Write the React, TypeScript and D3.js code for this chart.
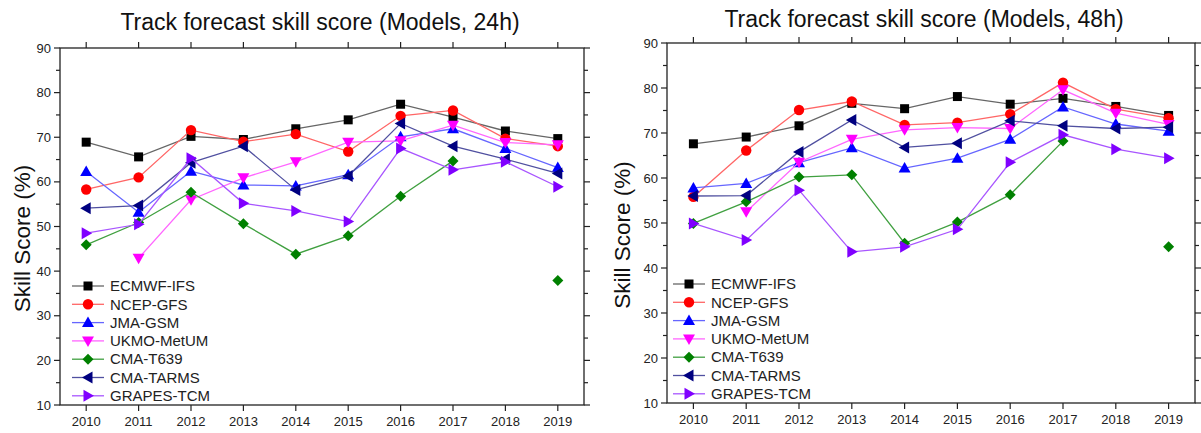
import React from "react";
import * as d3 from "d3";

// years on the x axis
const years = [2010, 2011, 2012, 2013, 2014, 2015, 2016, 2017, 2018, 2019];
const yTicks = [10, 20, 30, 40, 50, 60, 70, 80, 90];

const models = ["ECMWF-IFS", "NCEP-GFS", "JMA-GSM", "UKMO-MetUM", "CMA-T639", "CMA-TARMS", "GRAPES-TCM"];

// 24h skill scores
const ecmwf24 = [68.9, 65.6, 70.2, 69.5, 71.9, 73.9, 77.4, 74.5, 71.4, 69.7];
const ncep24 = [58.3, 61.0, 71.6, 69.0, 70.7, 66.8, 74.8, 76.0, 69.7, 68.0];
const jma24 = [62.3, 53.2, 62.4, 59.3, 59.1, 61.6, 70.1, 71.9, 67.5, 63.2];
const ukmo24 = [null, 42.9, 56.0, 60.9, 64.5, 68.9, 69.2, 72.7, 68.8, 68.3];
const t639_24 = [45.9, 50.9, 57.7, 50.6, 43.8, 47.9, 56.8, 64.7, null, 37.9];
const tarms24 = [54.1, 54.7, 64.3, 68.0, 58.2, 61.3, 73.1, 68.0, 65.1, 61.9];
const grapes24 = [48.5, 50.5, 65.3, 55.2, 53.5, 51.1, 67.5, 62.7, 64.5, 58.9];

// 48h skill scores
const ecmwf48 = [67.6, 69.1, 71.6, 76.6, 75.4, 78.1, 76.4, 77.7, 75.9, 73.9];
const ncep48 = [55.8, 66.1, 75.1, 77.0, 71.8, 72.3, 74.2, 81.2, 75.3, 73.3];
const jma48 = [57.8, 58.8, 63.4, 66.7, 62.2, 64.4, 68.6, 75.8, 72.0, 70.4];
const ukmo48 = [null, 52.5, 63.5, 68.6, 70.7, 71.2, 71.0, 79.6, 74.4, 71.9];
const t639_48 = [49.9, 54.7, 60.2, 60.7, 45.5, 50.2, 56.3, 68.2, null, 44.7];
const tarms48 = [56.0, 56.1, 65.8, 72.9, 66.8, 67.7, 72.7, 71.6, 71.0, 71.3];
const grapes48 = [49.9, 46.2, 57.3, 43.6, 44.7, 48.6, 63.5, 69.6, 66.4, 64.4];

const markerColors = ["#000000", "#ff0000", "#0000ff", "#ff00ff", "#008000", "#000080", "#8000ff"];
const lineColors = ["#666666", "#ff6666", "#6666ff", "#ff66ff", "#40a040", "#5050a0", "#a855ff"];
const symbols = ["square", "circle", "up", "down", "diamond", "left", "right"];

const FONT = "'Liberation Sans', Arial, Helvetica, sans-serif";

function Marker({ kind, x, y, color }) {
  const s = 6; // half size of triangle
  let pts;
  if (kind === "circle") return <circle cx={x} cy={y} r={5.2} fill={color} />;
  if (kind === "square") pts = [[-4.5, -4.5], [4.5, -4.5], [4.5, 4.5], [-4.5, 4.5]];
  else if (kind === "diamond") pts = [[0, -5.5], [5.5, 0], [0, 5.5], [-5.5, 0]];
  else if (kind === "up") pts = [[0, -s], [s, s * 0.75], [-s, s * 0.75]];
  else if (kind === "down") pts = [[0, s], [s, -s * 0.75], [-s, -s * 0.75]];
  else if (kind === "left") pts = [[-s, 0], [s * 0.75, -s], [s * 0.75, s]];
  else pts = [[s, 0], [-s * 0.75, -s], [-s * 0.75, s]];
  return <polygon points={pts.map((p) => `${x + p[0]},${y + p[1]}`).join(" ")} fill={color} />;
}

function Panel({ title, series, left, right, top, bottom, titleX, titleY, labelX, legendX, legendY }) {
  const x = d3.scaleLinear().domain([2009.5, 2019.5]).range([left, right]);
  const y = d3.scaleLinear().domain([10, 90]).range([bottom, top]);
  const minor = d3.range(15, 90, 10);
  const line = d3
    .line()
    .defined((d) => d[1] != null)
    .x((d) => x(d[0]))
    .y((d) => y(d[1]));

  return (
    <g fontFamily={FONT}>
      <text x={titleX} y={titleY} textAnchor="middle" fontSize={23} fill="#111">
        {title}
      </text>
      <text
        transform={`translate(${labelX},${(top + bottom) / 2 + 12}) rotate(-90)`}
        textAnchor="middle"
        fontSize={22.5}
        fill="#111"
      >
        Skill Score (%)
      </text>

      {/* frame */}
      <rect x={left} y={top} width={right - left} height={bottom - top} fill="none" stroke="#222" strokeWidth={1.3} />

      {/* y ticks, both sides */}
      {yTicks.map((t) => (
        <g key={"yl" + t}>
          <line x1={left - 6} x2={left} y1={y(t)} y2={y(t)} stroke="#222" strokeWidth={1.2} />
          <text x={left - 9} y={y(t)} dy="0.35em" textAnchor="end" fontSize={13} fill="#222">
            {t}
          </text>
          <line x1={right} x2={right + 6} y1={y(t)} y2={y(t)} stroke="#222" strokeWidth={1.2} />
        </g>
      ))}
      {minor.map((t) => (
        <g key={"ym" + t}>
          <line x1={left - 4} x2={left} y1={y(t)} y2={y(t)} stroke="#222" strokeWidth={1.2} />
          <line x1={right} x2={right + 4} y1={y(t)} y2={y(t)} stroke="#222" strokeWidth={1.2} />
        </g>
      ))}

      {/* x ticks */}
      {years.map((yr) => (
        <g key={"x" + yr}>
          <line x1={x(yr)} x2={x(yr)} y1={bottom} y2={bottom + 6} stroke="#222" strokeWidth={1.2} />
          <line x1={x(yr)} x2={x(yr)} y1={top - 6} y2={top} stroke="#222" strokeWidth={1.2} />
          <text x={x(yr)} y={bottom + 21} textAnchor="middle" fontSize={13} fill="#222">
            {yr}
          </text>
        </g>
      ))}

      {/* series */}
      {series.map((vals, i) => {
        const pts = years.map((yr, j) => [yr, vals[j]]);
        return (
          <g key={"s" + i}>
            <path d={line(pts)} fill="none" stroke={lineColors[i]} strokeWidth={1.3} />
            {pts
              .filter((p) => p[1] != null)
              .map((p) => (
                <Marker key={p[0]} kind={symbols[i]} x={x(p[0])} y={y(p[1])} color={markerColors[i]} />
              ))}
          </g>
        );
      })}

      {/* legend */}
      {models.map((m, i) => {
        const ly = legendY + i * 18.3;
        return (
          <g key={"l" + m}>
            <line x1={legendX} x2={legendX + 32} y1={ly} y2={ly} stroke={lineColors[i]} strokeWidth={1.3} />
            <Marker kind={symbols[i]} x={legendX + 16} y={ly} color={markerColors[i]} />
            <text x={legendX + 38} y={ly} dy="0.35em" fontSize={15} fill="#222">
              {m}
            </text>
          </g>
        );
      })}
    </g>
  );
}

export default function App() {
  return (
    <svg width={1201} height={433} style={{ position: "absolute", left: 0, top: 0, background: "#fff" }}>
      <Panel
        title="Track forecast skill score (Models, 24h)"
        series={[ecmwf24, ncep24, jma24, ukmo24, t639_24, tarms24, grapes24]}
        left={60}
        right={584}
        top={48}
        bottom={405}
        titleX={320}
        titleY={30}
        labelX={30}
        legendX={72}
        legendY={286}
      />
      <Panel
        title="Track forecast skill score (Models, 48h)"
        series={[ecmwf48, ncep48, jma48, ukmo48, t639_48, tarms48, grapes48]}
        left={667}
        right={1195}
        top={43}
        bottom={403}
        titleX={924}
        titleY={27}
        labelX={630}
        legendX={673}
        legendY={284}
      />
    </svg>
  );
}
